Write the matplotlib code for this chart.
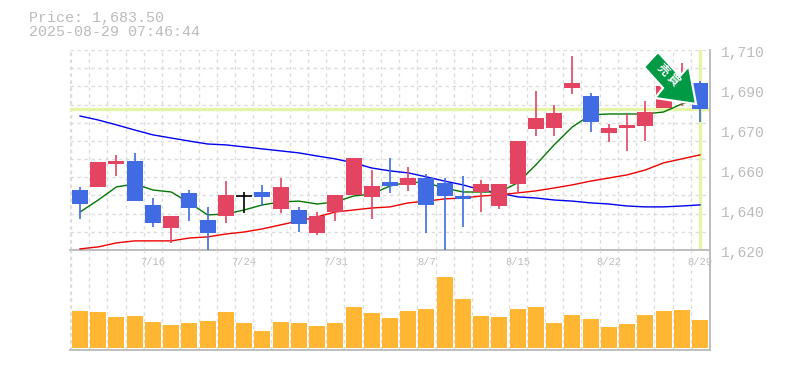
import matplotlib
matplotlib.use("Agg")
import matplotlib.pyplot as plt
from matplotlib.patches import Polygon, Rectangle

plt.rcParams['font.family'] = ['Liberation Mono', 'DejaVu Sans Mono']

price_title = "Price: 1,683.50"
stamp = "2025-08-29 07:46:44"
last_price = 1683.5
signal_label = "売買"

# open, close, high, low per session
opens = [1647.0,1648.4,1658.7,1660.0,1640.3,1629.9,1645.7,1633.5,1635.3,1644.2,1646.1,1638.5,1638.0,1627.7,1637.1,1644.8,1643.9,1650.6,1649.3,1652.4,1650.2,1644.3,1646.1,1639.8,1649.7,1674.5,1674.9,1692.9,1689.3,1672.7,1674.9,1675.8,1683.9,1687.5,1695.2]
closes = [1640.7,1659.6,1660.0,1642.0,1632.2,1635.3,1638.9,1627.7,1644.8,1644.2,1643.9,1648.4,1631.7,1635.3,1644.8,1661.4,1648.8,1648.8,1652.4,1640.3,1644.3,1643.0,1649.7,1649.7,1669.1,1679.4,1681.7,1695.2,1677.6,1674.9,1676.3,1682.1,1694.0,1696.5,1683.5]
highs = [1648.4,1659.6,1662.8,1663.7,1643.4,1635.3,1647.0,1639.4,1651.1,1646.1,1649.3,1652.4,1639.4,1637.1,1644.8,1661.4,1656.0,1661.4,1657.4,1654.2,1652.4,1653.3,1651.5,1649.7,1669.1,1691.6,1685.3,1707.3,1690.7,1676.7,1681.2,1687.1,1697.0,1704.2,1696.0]
lows = [1634.0,1648.4,1653.3,1642.0,1630.4,1623.2,1633.1,1620.0,1632.2,1636.7,1639.8,1636.7,1628.1,1626.8,1633.1,1644.8,1634.0,1645.7,1646.6,1627.7,1620.0,1630.4,1637.1,1638.5,1645.7,1671.3,1671.3,1690.2,1673.1,1668.6,1664.6,1669.1,1683.9,1685.0,1677.6]
ma_short = [1637.1,1642.5,1648.4,1649.7,1647.0,1646.1,1641.2,1635.8,1636.2,1638.0,1640.3,1641.6,1642.0,1640.7,1641.6,1644.3,1645.2,1648.8,1650.6,1650.2,1647.9,1646.1,1646.1,1646.1,1650.2,1658.3,1667.3,1675.4,1680.8,1681.2,1681.2,1681.2,1682.1,1685.7,1688.0]
ma_mid = [1620.5,1621.4,1623.2,1624.1,1624.1,1624.1,1625.4,1625.9,1627.2,1628.1,1629.5,1631.3,1633.1,1634.9,1637.1,1638.0,1638.9,1639.4,1641.2,1642.0,1643.0,1643.4,1644.3,1644.8,1645.7,1646.6,1647.9,1649.3,1651.0,1652.4,1653.8,1656.0,1659.2,1661.0,1662.8]
ma_long = [1680.3,1678.5,1676.3,1674.0,1671.8,1670.4,1669.0,1667.7,1667.3,1666.4,1665.5,1664.6,1663.7,1662.3,1661.0,1659.2,1656.9,1655.6,1654.7,1652.9,1651.0,1649.3,1647.0,1645.7,1643.9,1643.4,1642.5,1642.0,1641.2,1640.7,1639.8,1639.4,1639.4,1639.8,1640.3]
volumes = [37,36,31,32,26,23,25,27,36,25,17,26,25,22,25,41,35,30,37,39,71,49,32,31,39,41,25,33,29,21,24,33,37,38,28]
date_labels = ["7/16","7/24","7/31","8/7","8/15","8/22","8/29"]
date_positions = [4,9,14,19,24,29,34]
price_ticks = [1710,1692,1674,1656,1638,1620]
price_tick_labels = ["1,710","1,690","1,670","1,660","1,640","1,620"]

W, H = 785, 370
UP, DOWN, DOJI = "#E34461", "#416BE2", "#000000"
GRID, FRAME, TXT = "#DCDCDC", "#BDBDBD", "#BBBBBB"
HILITE = "#E4F5A8"

fig = plt.figure(figsize=(W/100, H/100), dpi=100, facecolor="white")
def axes_px(x0, y0, x1, y1):
    return fig.add_axes([x0/W, 1-y1/H, (x1-x0)/W, (y1-y0)/H])

ax = axes_px(70, 50, 710, 250)
av = axes_px(70, 250, 710, 350)
n = len(opens)
xlim = (-0.55, n-0.45)

for a in (ax, av):
    a.set_xlim(*xlim)
    a.set_xticks([])
    a.set_yticks([])
    a.patch.set_alpha(0)
    for i in range(n):
        a.axvline(i-0.5, color=GRID, lw=1, dashes=(2.5, 2.5), zorder=1)
    a.spines['left'].set_visible(False)
    a.spines['top'].set_visible(False)
    a.spines['right'].set_color(FRAME)
    a.spines['bottom'].set_color(FRAME)
    a.spines['right'].set_linewidth(1.4)
    a.spines['bottom'].set_linewidth(1.4)
    a.axvline(xlim[0], color=GRID, lw=1, dashes=(2.5, 2.5), zorder=1)

ax.set_ylim(1620, 1710)
step = 90/11
for k in range(11):
    ax.axhline(1710-k*step, color=GRID, lw=1, dashes=(2.5, 2.5), zorder=1)

ax.axhline(last_price, color=HILITE, lw=2.4, zorder=2)
ax.axvline(n-1, color=HILITE, lw=2.4, zorder=2)

ax.plot(range(n), ma_long, color="#0000EE", lw=1, zorder=3)
ax.plot(range(n), ma_mid, color="#EE0000", lw=1, zorder=3)
ax.plot(range(n), ma_short, color="#007700", lw=1, zorder=3)

w = 16/18.235
for i in range(n):
    o, c, h, l = opens[i], closes[i], highs[i], lows[i]
    col = DOJI if o == c else (UP if c > o else DOWN)
    ax.plot([i, i], [l, h], color=col, lw=1.2, zorder=4, solid_capstyle='butt', clip_on=False)
    if o == c:
        ax.plot([i-w/2, i+w/2], [o, o], color=col, lw=1.2, zorder=4, solid_capstyle='butt')
    else:
        ax.add_patch(Rectangle((i-w/2, min(o, c)), w, abs(c-o), facecolor=col, edgecolor='none', zorder=4))

av.set_ylim(-2, 98)
av.bar(range(n), volumes, width=w, color="#FFB733", zorder=3)

def px(x, y):
    return (x/W, 1-y/H)
arrow_pts = [(658,52),(644,67),(663,88),(655,98),(696,104),(689,66),(680,76)]
fig.add_artist(Polygon([px(*p) for p in arrow_pts], closed=True, transform=fig.transFigure,
                       facecolor="#009944", edgecolor="white", lw=1.6, zorder=10, joinstyle='miter'))
for ch, pos in zip(signal_label, [(663, 70), (673, 80)]):
    fig.text(*px(*pos), ch, family=['Noto Sans CJK JP'], fontsize=8.5, fontweight='bold',
             color="white", rotation=-45, ha='center', va='center', rotation_mode='anchor', zorder=11)

for t, lab in zip(price_ticks, price_tick_labels):
    ax.annotate(lab, (1, t), xycoords=('axes fraction', 'data'), xytext=(11, -3), textcoords='offset pixels',
                color=TXT, fontsize=10.5, ha='left', va='center', annotation_clip=False)
for p, lab in zip(date_positions, date_labels):
    ax.annotate(lab, (p, 0), xycoords=('data', 'axes fraction'), xytext=(0, -12), textcoords='offset pixels',
                color=TXT, fontsize=7.6, ha='center', va='center', annotation_clip=False)

fig.text(29/W, 1-18/H, price_title, color=TXT, fontsize=10.8, ha='left', va='center')
fig.text(29/W, 1-32.5/H, stamp, color=TXT, fontsize=10.8, ha='left', va='center')

fig.savefig("out.png", dpi=100)
